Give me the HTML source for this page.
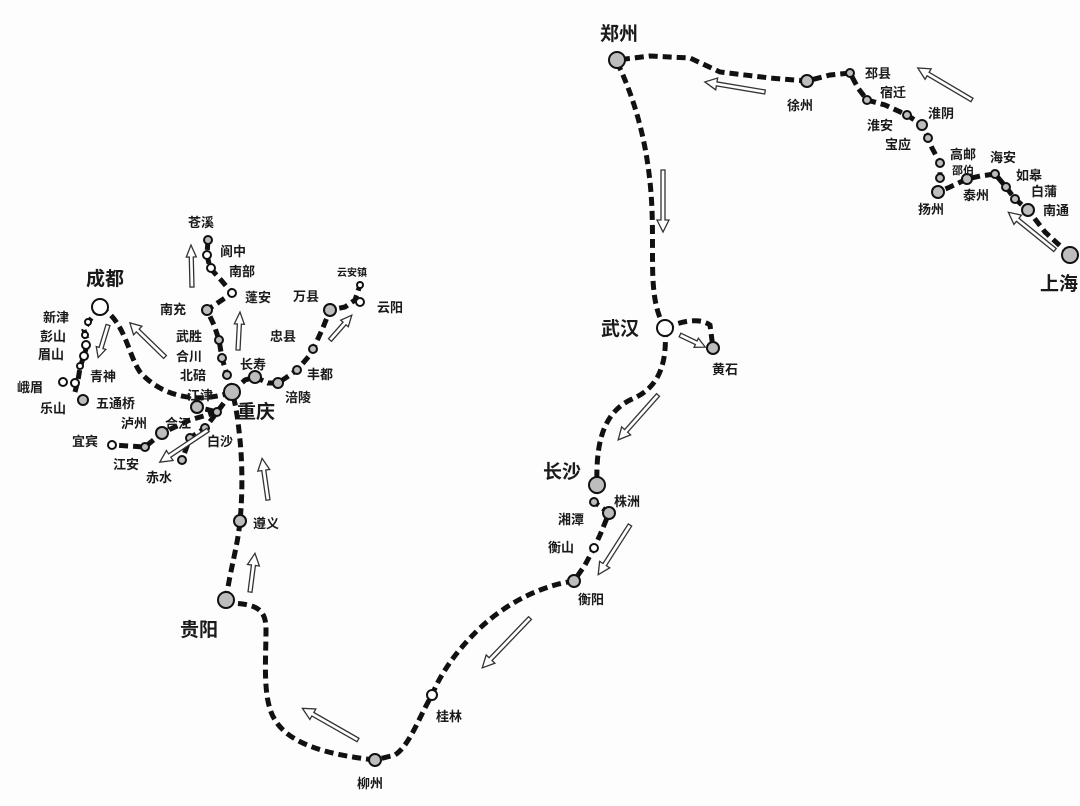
<!DOCTYPE html>
<html><head><meta charset="utf-8"><style>
html,body{margin:0;padding:0;background:#fff;}
svg{display:block}
text{font-family:"Liberation Sans","Noto Sans CJK SC","WenQuanYi Zen Hei",sans-serif;font-weight:bold;fill:#1a1a1a}
.r{fill:none;stroke:#111;stroke-width:5;stroke-dasharray:9 5}
.n{fill:#bdbdbd;stroke:#111;stroke-width:2}
.w{fill:#fff;stroke:#111;stroke-width:2}
.a{fill:#fff;stroke:#333;stroke-width:1.3}
.s{font-size:13px}.m{font-size:15px}.b{font-size:19px}
</style></head><body>
<svg width="1080" height="806" viewBox="0 0 1080 806" xmlns="http://www.w3.org/2000/svg">
<rect width="1080" height="806" fill="#fdfdfd"/>
<path class="r" d="M1070,255 L1045,232 L1028,210 L1015,199 L1006,187 L995,174 L980,176 L967,179 L950,187 L938,192 L940,178 L940,163 L932,148 L928,138 L922,125 L907,115 L885,105 L867,100 L858,88 L850,73 L830,75 L807,81 L770,78 L720,72 L690,58 L650,56 L617,60"/>
<path class="r" d="M617,62 C640,110 650,160 652,210 C654,260 648,300 665,328"/>
<path class="r" d="M665,328 C685,320 700,318 710,325 L713,348"/>
<path class="r" d="M665,328 C668,370 655,390 630,400 C600,415 596,450 597,485"/>
<path class="r" d="M597,485 L594,502 L609,513 L600,535 L594,548 L585,565 L574,581 C545,585 510,600 480,628 C455,652 440,675 432,695 C420,715 410,745 395,755 L375,760"/>
<path class="r" d="M375,760 C330,755 290,745 275,720 C262,700 266,660 266,630 C266,610 258,604 230,603"/>
<path class="r" d="M226,600 C230,570 238,545 240,521 C243,490 242,460 240,440 C238,420 236,405 232,392"/>
<path class="r" d="M100,307 C125,320 128,355 140,372 C160,395 195,405 232,392"/>
<path class="r" d="M100,307 L90,320 L84,330 L88,343 L84,355 L80,368 L78,380 L75,392"/>
<path class="r" d="M232,392 L227,375 L222,358 L219,340 L214,325 L207,310 L222,300 L232,293 L221,280 L210,268 L207,255 L208,240"/>
<path class="r" d="M232,392 L245,380 L255,377 L268,383 L278,383 L290,375 L297,370 L310,355 L315,345 L322,330 L330,310 L345,307 L355,300 L360,285"/>
<path class="r" d="M232,392 L217,412 L197,407"/>
<path class="r" d="M217,412 L190,420 L162,433 L145,447 L112,445"/>
<path class="r" d="M232,392 L215,415 L205,428 L190,438 L182,460"/>
<g>
<circle class="n" cx="1070" cy="255" r="8"/><circle class="n" cx="1028" cy="210" r="6"/><circle class="n" cx="1015" cy="199" r="4"/><circle class="n" cx="1006" cy="187" r="4"/><circle class="n" cx="995" cy="174" r="4"/><circle class="n" cx="967" cy="179" r="5"/><circle class="n" cx="938" cy="192" r="6"/><circle class="n" cx="940" cy="178" r="4"/><circle class="n" cx="940" cy="163" r="4"/><circle class="n" cx="928" cy="138" r="4"/><circle class="n" cx="922" cy="125" r="5"/><circle class="n" cx="907" cy="115" r="4"/><circle class="n" cx="867" cy="100" r="4"/><circle class="n" cx="850" cy="73" r="4"/><circle class="n" cx="807" cy="81" r="6"/><circle class="n" cx="617" cy="60" r="8"/>
<circle class="w" cx="665" cy="328" r="8"/><circle class="n" cx="713" cy="348" r="6"/><circle class="n" cx="597" cy="485" r="8"/><circle class="n" cx="594" cy="502" r="4"/><circle class="n" cx="609" cy="513" r="6"/><circle class="w" cx="594" cy="548" r="4"/><circle class="n" cx="574" cy="581" r="6"/><circle class="w" cx="432" cy="695" r="5"/><circle class="n" cx="375" cy="760" r="6"/><circle class="n" cx="226" cy="600" r="8"/><circle class="n" cx="240" cy="521" r="6"/>
<circle class="n" cx="232" cy="392" r="8"/><circle class="w" cx="100" cy="307" r="8"/><circle class="w" cx="88" cy="322" r="3"/><circle class="w" cx="85" cy="335" r="3"/><circle class="w" cx="86" cy="345" r="4"/><circle class="w" cx="84" cy="356" r="4"/><circle class="w" cx="80" cy="366" r="3"/><circle class="w" cx="75" cy="383" r="4"/><circle class="w" cx="63" cy="382" r="4"/><circle class="n" cx="83" cy="400" r="5"/>
<circle class="n" cx="227" cy="375" r="4"/><circle class="n" cx="222" cy="358" r="4"/><circle class="n" cx="219" cy="340" r="4"/><circle class="n" cx="207" cy="310" r="5"/><circle class="w" cx="232" cy="293" r="4"/><circle class="w" cx="211" cy="268" r="4"/><circle class="w" cx="207" cy="255" r="4"/><circle class="n" cx="208" cy="240" r="4"/>
<circle class="n" cx="255" cy="377" r="6"/><circle class="n" cx="278" cy="383" r="5"/><circle class="n" cx="297" cy="370" r="4"/><circle class="n" cx="313" cy="349" r="4"/><circle class="n" cx="330" cy="310" r="6"/><circle class="w" cx="360" cy="302" r="4"/><circle class="w" cx="360" cy="285" r="3"/>
<circle class="n" cx="197" cy="407" r="6"/><circle class="n" cx="217" cy="412" r="4"/><circle class="n" cx="162" cy="433" r="6"/><circle class="n" cx="145" cy="447" r="4"/><circle class="w" cx="112" cy="445" r="4"/><circle class="n" cx="205" cy="428" r="4"/><circle class="n" cx="190" cy="438" r="4"/><circle class="n" cx="182" cy="460" r="4"/>
</g>
<g>
<polygon class="a" transform="translate(1055,250) rotate(219)" points="0,-2 48,-2 48,-6 60,0 48,6 48,2 0,2"/>
<polygon class="a" transform="translate(972,100) rotate(210.6)" points="0,-2 51,-2 51,-6 63,0 51,6 51,2 0,2"/>
<polygon class="a" transform="translate(765,92) rotate(189.5)" points="0,-2 49,-2 49,-6 61,0 49,6 49,2 0,2"/>
<polygon class="a" transform="translate(663,170) rotate(90)" points="0,-2 50,-2 50,-6 62,0 50,6 50,2 0,2"/>
<polygon class="a" transform="translate(680,335) rotate(25.6)" points="0,-2 18,-2 18,-5 28,0 18,5 18,2 0,2"/>
<polygon class="a" transform="translate(658,395) rotate(131.6)" points="0,-2 48,-2 48,-6 60,0 48,6 48,2 0,2"/>
<polygon class="a" transform="translate(630,525) rotate(122.6)" points="0,-2 47,-2 47,-6 59,0 47,6 47,2 0,2"/>
<polygon class="a" transform="translate(530,618) rotate(133.8)" points="0,-2 57,-2 57,-6 69,0 57,6 57,2 0,2"/>
<polygon class="a" transform="translate(358,740) rotate(209.7)" points="0,-2 52,-2 52,-6 64,0 52,6 52,2 0,2"/>
<polygon class="a" transform="translate(250,592) rotate(277.3)" points="0,-2 27,-2 27,-6 39,0 27,6 27,2 0,2"/>
<polygon class="a" transform="translate(268,500) rotate(261.9)" points="0,-2 30,-2 30,-6 42,0 30,6 30,2 0,2"/>
<polygon class="a" transform="translate(208,430) rotate(146.3)" points="0,-2 46,-2 46,-6 58,0 46,6 46,2 0,2"/>
<polygon class="a" transform="translate(238,350) rotate(273)" points="0,-2 26,-2 26,-5 38,0 26,5 26,2 0,2"/>
<polygon class="a" transform="translate(192,287) rotate(268.6)" points="0,-2 30,-2 30,-5 42,0 30,5 30,2 0,2"/>
<polygon class="a" transform="translate(330,340) rotate(311.3)" points="0,-2 22,-2 22,-5 33,0 22,5 22,2 0,2"/>
<polygon class="a" transform="translate(165,357) rotate(224.2)" points="0,-2 38,-2 38,-6 49,0 38,6 38,2 0,2"/>
<polygon class="a" transform="translate(108,325) rotate(106.9)" points="0,-2 24,-2 24,-5 34,0 24,5 24,2 0,2"/>
</g>
<g>
<text class="b" x="600" y="40">郑州</text>
<text class="b" x="1040" y="290">上海</text>
<text class="b" x="601" y="335">武汉</text>
<text class="b" x="543" y="478">长沙</text>
<text class="b" x="180" y="636">贵阳</text>
<text class="b" x="237" y="418">重庆</text>
<text class="b" x="86" y="285">成都</text>
<text class="s" x="787" y="110">徐州</text>
<text class="s" x="865" y="78">邳县</text>
<text class="s" x="880" y="97">宿迁</text>
<text class="s" x="928" y="118">淮阴</text>
<text class="s" x="867" y="130">淮安</text>
<text class="s" x="885" y="149">宝应</text>
<text class="s" x="950" y="159">高邮</text>
<text class="s" style="font-size:11px" x="952" y="174">邵伯</text>
<text class="s" x="963" y="200">泰州</text>
<text class="s" x="918" y="214">扬州</text>
<text class="s" x="990" y="162">海安</text>
<text class="s" x="1016" y="180">如皋</text>
<text class="s" x="1031" y="196">白蒲</text>
<text class="s" x="1043" y="215">南通</text>
<text class="s" x="712" y="374">黄石</text>
<text class="s" x="614" y="506">株洲</text>
<text class="s" x="558" y="524">湘潭</text>
<text class="s" x="548" y="552">衡山</text>
<text class="s" x="578" y="604">衡阳</text>
<text class="s" x="436" y="721">桂林</text>
<text class="s" x="357" y="788">柳州</text>
<text class="s" x="253" y="528">遵义</text>
<text class="s" x="188" y="227">苍溪</text>
<text class="s" x="220" y="256">阆中</text>
<text class="s" x="229" y="276">南部</text>
<text class="s" x="245" y="302">蓬安</text>
<text class="s" x="160" y="314">南充</text>
<text class="s" x="176" y="341">武胜</text>
<text class="s" x="176" y="361">合川</text>
<text class="s" x="180" y="380">北碚</text>
<text class="s" x="187" y="400">江津</text>
<text class="s" x="240" y="369">长寿</text>
<text class="s" x="270" y="341">忠县</text>
<text class="s" x="293" y="301">万县</text>
<text class="s" style="font-size:10px" x="337" y="276">云安镇</text>
<text class="s" x="377" y="312">云阳</text>
<text class="s" x="307" y="379">丰都</text>
<text class="s" x="285" y="402">涪陵</text>
<text class="s" x="207" y="446">白沙</text>
<text class="s" x="165" y="428">合江</text>
<text class="s" x="121" y="428">泸州</text>
<text class="s" x="72" y="446">宜宾</text>
<text class="s" x="113" y="469">江安</text>
<text class="s" x="146" y="482">赤水</text>
<text class="s" x="43" y="322">新津</text>
<text class="s" x="40" y="341">彭山</text>
<text class="s" x="38" y="359">眉山</text>
<text class="s" x="17" y="392">峨眉</text>
<text class="s" x="40" y="413">乐山</text>
<text class="s" x="90" y="381">青神</text>
<text class="s" x="96" y="408">五通桥</text>
</g>
</svg>
</body></html>
